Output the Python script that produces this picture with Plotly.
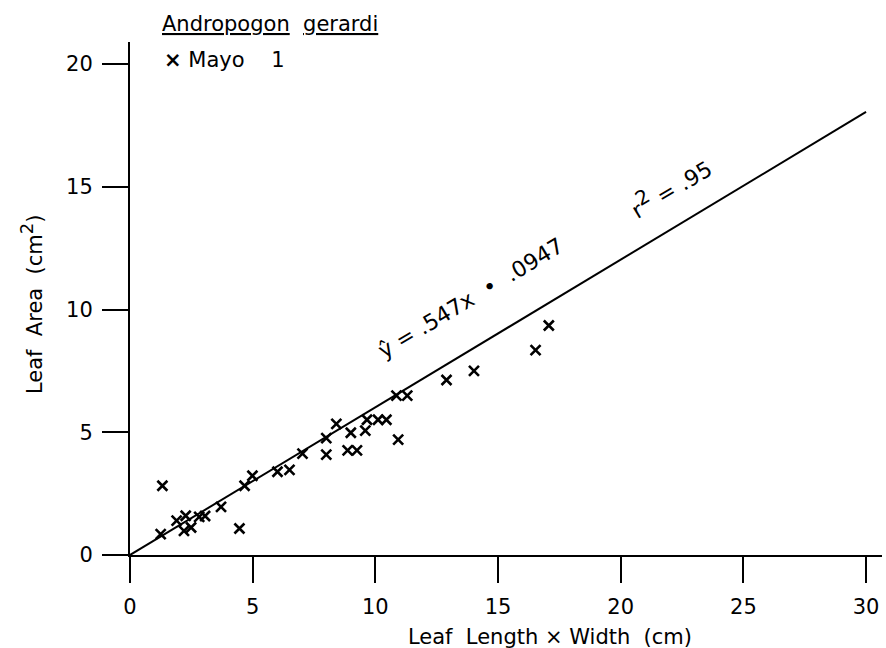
import plotly.graph_objects as go

# Data
leaf_lw = [1.25, 1.32, 1.9, 2.27, 2.2, 2.49, 2.82, 3.06, 3.71, 4.46, 4.67, 4.99,
           6.01, 6.5, 7.03, 8.0, 8.0, 8.41, 9.0, 8.87, 9.25, 9.59, 9.66, 10.11,
           10.45, 10.93, 10.86, 11.3, 12.9, 14.02, 16.53, 17.07]
leaf_area = [0.85, 2.82, 1.4, 1.6, 0.98, 1.12, 1.55, 1.59, 1.96, 1.08, 2.82, 3.23,
             3.39, 3.47, 4.13, 4.76, 4.09, 5.34, 4.98, 4.26, 4.26, 5.07, 5.51, 5.51,
             5.51, 4.70, 6.49, 6.49, 7.13, 7.5, 8.35, 9.35]
fit_x = [0, 30]
fit_y = [0, 18.05]
x_ticks = [0, 5, 10, 15, 20, 25, 30]
y_ticks = [0, 5, 10, 15, 20]

W, H = 886, 648
L, R, T, B = 130, 4, 42, 93
FONT = "DejaVu Sans"


def px_to_paper(px, py):
    return (px - L) / (W - L - R), (H - B - py) / (H - T - B)


fig = go.Figure()
fig.add_trace(go.Scatter(x=fit_x, y=fit_y, mode="lines",
                         line=dict(color="black", width=2), showlegend=False,
                         hoverinfo="skip"))
fig.add_trace(go.Scatter(x=leaf_lw, y=leaf_area, mode="markers",
                         marker=dict(symbol="x-thin", size=10,
                                     line=dict(color="black", width=2.6)),
                         showlegend=False))

axis_common = dict(showgrid=False, zeroline=False, showline=True, linecolor="black",
                   linewidth=2, ticks="outside", ticklen=26, tickwidth=2,
                   tickcolor="black", tickfont=dict(family=FONT, size=21, color="black"),
                   automargin=False)

fig.update_xaxes(range=[0, 30.65], tickvals=x_ticks, ticklabelstandoff=6, **axis_common)
fig.update_yaxes(range=[0, 20.9], tickvals=y_ticks, ticklabelstandoff=5, **axis_common)

annots = []
# x title
ax, ay = px_to_paper(550, 637)
annots.append(dict(text="Leaf  Length × Width  (cm)", xref="paper", yref="paper",
                   x=ax, y=ay, xanchor="center", yanchor="middle", showarrow=False,
                   font=dict(family=FONT, size=21, color="black")))
# y title
ax, ay = px_to_paper(31, 305)
annots.append(dict(text="Leaf  Area  (cm<sup><span style='font-size:18px'>2</span></sup>)",
                   xref="paper", yref="paper",
                   x=ax, y=ay, xanchor="center", yanchor="middle", showarrow=False,
                   textangle=-90, font=dict(family=FONT, size=21, color="black")))
# header
ax, ay = px_to_paper(160, 24)
annots.append(dict(text="<u>Andropogon</u>  <u>gerardi</u>", xref="paper", yref="paper",
                   x=ax, y=ay, xanchor="left", yanchor="middle", showarrow=False,
                   font=dict(family=FONT, size=21, color="black")))
ax, ay = px_to_paper(162, 60)
annots.append(dict(text="<b>×</b> Mayo    1", xref="paper", yref="paper",
                   x=ax, y=ay, xanchor="left", yanchor="middle", showarrow=False,
                   font=dict(family=FONT, size=21, color="black")))
# equation
ax, ay = px_to_paper(470, 298)
annots.append(dict(text="ŷ = .547x  •  .0947", xref="paper", yref="paper",
                   x=ax, y=ay, xanchor="center", yanchor="middle", showarrow=False,
                   textangle=-31, font=dict(family=FONT, size=22, color="black")))
ax, ay = px_to_paper(669, 186)
annots.append(dict(text="r<sup><span style='font-size:20px'>2</span></sup> = .95",
                   xref="paper", yref="paper",
                   x=ax, y=ay, xanchor="center", yanchor="middle", showarrow=False,
                   textangle=-31, font=dict(family=FONT, size=22, color="black")))

fig.update_layout(width=W, height=H, margin=dict(l=L, r=R, t=T, b=B, pad=0),
                  plot_bgcolor="white", paper_bgcolor="white", annotations=annots,
                  showlegend=False)

fig.write_html("out.html")
